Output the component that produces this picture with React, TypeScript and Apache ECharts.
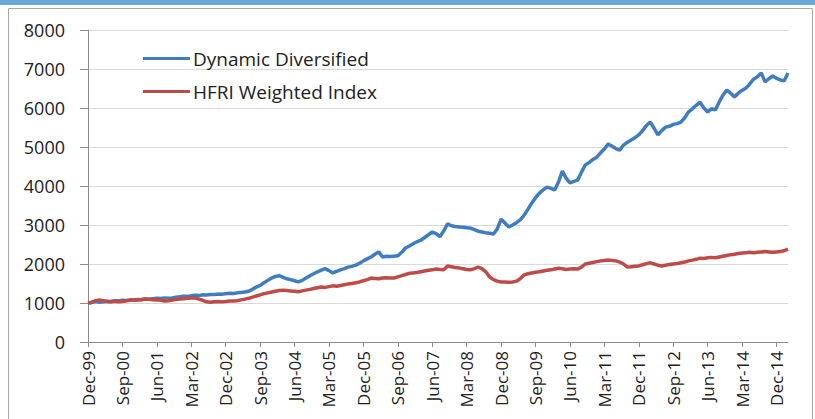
import React, { useEffect, useRef } from "react";
import * as echarts from "echarts";

const MONTHS = ["Jan", "Feb", "Mar", "Apr", "May", "Jun", "Jul", "Aug", "Sep", "Oct", "Nov", "Dec"];
// Monthly categories Dec-99 .. Mar-15
const categories: string[] = [];
for (let i = 0; i < 184; i++) {
  const m = (11 + i) % 12;
  const y = (1999 + Math.floor((11 + i) / 12)) % 100;
  categories.push(`${MONTHS[m]}-${String(y).padStart(2, "0")}`);
}

const seriesNames = ["Dynamic Diversified", "HFRI Weighted Index"];

const dynamicDiversified = [
  1000, 1010, 1035, 1020, 1030, 1045, 1040, 1060, 1055, 1070, 1065, 1080,
  1075, 1090, 1085, 1100, 1095, 1110, 1120, 1115, 1130, 1125, 1130, 1150,
  1160, 1175, 1170, 1185, 1200, 1190, 1210, 1205, 1220, 1215, 1230, 1225,
  1240, 1250, 1245, 1260, 1270, 1280, 1300, 1350, 1410, 1450, 1520, 1580,
  1640, 1680, 1700, 1660, 1620, 1600, 1570, 1540, 1580, 1640, 1700, 1750,
  1800, 1840, 1880, 1830, 1770, 1810, 1850, 1880, 1920, 1940, 1970, 2020,
  2080, 2130, 2180, 2250, 2310, 2180, 2200, 2190, 2200, 2210, 2300, 2410,
  2460, 2520, 2570, 2610, 2680, 2750, 2820, 2780, 2700, 2850, 3030, 2980,
  2960, 2950, 2940, 2930, 2920, 2880, 2840, 2820, 2800, 2790, 2770, 2900,
  3150, 3050, 2950, 3000, 3060, 3130, 3250, 3400, 3560, 3700, 3820, 3900,
  3970, 3940, 3900, 4100, 4380, 4200, 4080, 4120, 4150, 4350, 4540, 4600,
  4680, 4740, 4850, 4950, 5080, 5020, 4960, 4920, 5050, 5120, 5180, 5240,
  5310, 5420, 5550, 5640, 5480, 5310, 5420, 5510, 5530, 5580, 5600, 5640,
  5750, 5900, 5980, 6070, 6150, 6000, 5900, 5980, 5950, 6150, 6330, 6460,
  6380, 6280, 6380, 6450, 6510, 6620, 6740, 6800, 6900, 6670, 6750, 6820,
  6760, 6720, 6700, 6900,
];

const hfriWeighted = [
  1000, 1020, 1060, 1080, 1060, 1040, 1030, 1045, 1030, 1040, 1055, 1070,
  1080, 1075, 1090, 1100, 1095, 1085, 1080, 1070, 1050, 1060, 1075, 1090,
  1100, 1110, 1120, 1125, 1130, 1100, 1070, 1030, 1020, 1030, 1040, 1035,
  1040, 1050, 1050, 1060, 1080, 1100, 1120, 1150, 1180, 1210, 1240, 1260,
  1280, 1300, 1320, 1330, 1320, 1310, 1300, 1290, 1310, 1330, 1350, 1370,
  1390, 1410, 1400, 1420, 1440, 1430, 1450, 1470, 1490, 1500, 1520, 1540,
  1570, 1600, 1640, 1630, 1620, 1640, 1650, 1640, 1640, 1670, 1700, 1730,
  1760, 1770, 1780, 1800, 1820, 1840, 1850, 1870, 1860, 1850, 1950, 1930,
  1910, 1900, 1880, 1860, 1850, 1880, 1920, 1880, 1800, 1670, 1600, 1560,
  1540, 1540, 1535, 1540, 1560, 1620, 1720, 1750, 1770, 1790, 1800, 1820,
  1840, 1850, 1870, 1890, 1880, 1860, 1870, 1880, 1870, 1920, 2000, 2020,
  2040, 2060, 2080, 2090, 2100, 2090, 2080, 2050, 2000, 1920, 1930, 1940,
  1950, 1980, 2010, 2030, 2000, 1970, 1950, 1970, 1990, 2000, 2010, 2030,
  2050, 2080, 2100, 2120, 2150, 2140, 2160, 2170, 2160, 2180, 2200, 2220,
  2240, 2250, 2270, 2280, 2290, 2300, 2290, 2300, 2310, 2320, 2310, 2300,
  2310, 2320, 2340, 2380,
];

const FONT = "'Open Sans', 'Liberation Sans', sans-serif";

export default function App() {
  const ref = useRef<HTMLDivElement>(null);

  useEffect(() => {
    if (!ref.current) return;
    const chart = echarts.init(ref.current, undefined, { renderer: "svg" });
    chart.setOption({
      animation: false,
      backgroundColor: "#ffffff",
      graphic: [
        { type: "rect", shape: { x: 0, y: 0, width: 815, height: 5 }, style: { fill: "#6aa8d6" }, silent: true },
        { type: "rect", shape: { x: 8.5, y: 8.5, width: 804, height: 420 }, style: { fill: "none", stroke: "#a6a6a6", lineWidth: 1 }, silent: true },
      ],
      legend: {
        orient: "vertical",
        left: 143,
        top: 49,
        padding: 0,
        itemWidth: 47,
        itemHeight: 3,
        itemGap: 14,
        icon: "rect",
        textStyle: { fontFamily: FONT, fontSize: 19, color: "#222", padding: [0, 0, 0, -2] },
        data: seriesNames,
      },
      grid: { left: 88, right: 27, top: 30, bottom: 77 },
      xAxis: {
        type: "category",
        data: categories,
        boundaryGap: false,
        axisLine: { lineStyle: { color: "#8c8c8c", width: 1 } },
        axisTick: { show: true, interval: 8, length: 5, lineStyle: { color: "#8c8c8c" } },
        axisLabel: {
          interval: 8,
          rotate: 90,
          margin: 9,
          fontFamily: FONT,
          fontSize: 17,
          color: "#222",
        },
        splitLine: { show: false },
      },
      yAxis: {
        type: "value",
        min: 0,
        max: 8000,
        interval: 1000,
        axisLine: { show: true, lineStyle: { color: "#8c8c8c", width: 1 } },
        axisTick: { show: true, length: 8, lineStyle: { color: "#8c8c8c" } },
        axisLabel: {
          margin: 23,
          fontFamily: FONT,
          fontSize: 18,
          color: "#222",
          formatter: (v: number) => String(v),
        },
        splitLine: { show: true, lineStyle: { color: "#d9d9d9", width: 1 } },
      },
      series: [
        {
          name: seriesNames[0],
          type: "line",
          data: dynamicDiversified,
          showSymbol: false,
          symbol: "none",
          lineStyle: { color: "#3f7dc0", width: 3.5 },
          itemStyle: { color: "#3f7dc0" },
        },
        {
          name: seriesNames[1],
          type: "line",
          data: hfriWeighted,
          showSymbol: false,
          symbol: "none",
          lineStyle: { color: "#be4b48", width: 3.5 },
          itemStyle: { color: "#be4b48" },
        },
      ],
    });
    return () => chart.dispose();
  }, []);

  return (
    <div
      ref={ref}
      style={{ position: "fixed", left: 0, top: 0, width: 815, height: 419 }}
    />
  );
}
